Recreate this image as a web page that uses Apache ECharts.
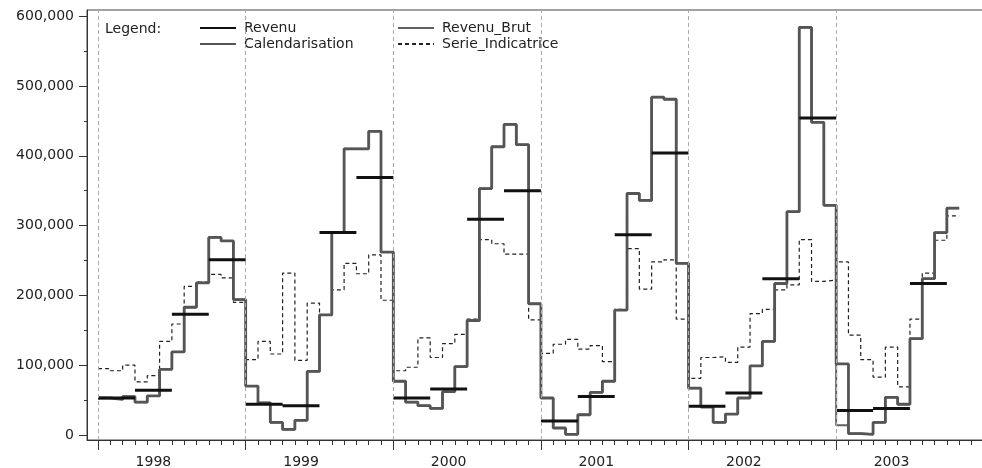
<!DOCTYPE html>
<html>
<head>
<meta charset="utf-8">
<script src="https://cdn.jsdelivr.net/npm/echarts@6/dist/echarts.min.js"></script>
<style>html,body{margin:0;padding:0;background:#fff}#c{width:982px;height:468px}</style>
</head>
<body>
<div id="c"></div>
<script>
// Monthly values, Jan 1998 .. Oct 2003 (month index 0..69)
const calendarisation = [
  53000, 51000, 55000, 47000, 56000, 94000, 119000, 183000, 218000, 283000, 278000, 194000,
  70000, 46000, 18000, 8000, 21000, 91000, 172000, 290000, 410000, 410000, 435000, 262000,
  77000, 47000, 42000, 38000, 62000, 98000, 164000, 353000, 413000, 445000, 416000, 188000,
  53000, 10000, 1000, 29000, 61000, 77000, 179000, 346000, 336000, 484000, 481000, 246000,
  67000, 40000, 18000, 30000, 53000, 99000, 134000, 217000, 320000, 584000, 448000, 329000,
  102000, 2000, 1000, 18000, 54000, 44000, 138000, 224000, 290000, 325000
];
const revenuBrut = [
  53000, 51000, 55000, 47000, 56000, 94000, 119000, 183000, 218000, 283000, 278000, 194000,
  70000, 46000, 18000, 8000, 21000, 91000, 172000, 290000, 410000, 410000, 435000, 262000,
  77000, 47000, 42000, 38000, 62000, 98000, 164000, 353000, 413000, 445000, 416000, 188000,
  53000, 10000, 1000, 29000, 61000, 77000, 179000, 346000, 336000, 484000, 481000, 246000,
  67000, 40000, 18000, 30000, 53000, 99000, 134000, 217000, 320000, 584000, 448000, 329000,
  14000, 2000, 1000, 18000, 54000, 44000, 138000, 224000, 290000, 325000
];
const serieIndicatrice = [
  95000, 92000, 100000, 76000, 85000, 134000, 159000, 213000, 219000, 230000, 225000, 190000,
  108000, 134000, 116000, 232000, 107000, 189000, 172000, 208000, 246000, 231000, 258000, 193000,
  92000, 97000, 139000, 111000, 131000, 144000, 166000, 280000, 274000, 259000, 259000, 165000,
  117000, 130000, 137000, 123000, 128000, 105000, 180000, 267000, 209000, 248000, 251000, 166000,
  81000, 111000, 112000, 104000, 126000, 174000, 180000, 208000, 215000, 280000, 220000, 222000,
  248000, 143000, 108000, 83000, 126000, 69000, 166000, 232000, 279000, 314000
];
// Quarterly values, Q1 1998 .. Q3 2003
const revenu = [
  53000, 64000, 173000, 251000,
  44000, 42000, 290000, 369000,
  53000, 66000, 309000, 350000,
  20000, 55000, 287000, 404000,
  41000, 60000, 224000, 454000,
  35000, 38000, 217000
];
const years = [1998, 1999, 2000, 2001, 2002, 2003];
const yTicks = [0, 100000, 200000, 300000, 400000, 500000, 600000];
const yMinorTicks = [50000, 150000, 250000, 350000, 450000, 550000];

const FONT = 'DejaVu Sans';
const monthTicks = [];
for (let i = 0; i < 72; i++) monthTicks.push(i);
const yearStarts = years.map((y, i) => i * 12);
const yearLabelPos = years.map((y, i) => i * 12 + 4.5);

function monthly(arr) {
  const d = arr.map((v, i) => [i, v]);
  d.push([arr.length, arr[arr.length - 1]]);
  return d;
}
function quarterly(arr) {
  const d = [];
  arr.forEach((v, q) => {
    d.push([q * 3, v]);
    d.push([q * 3 + 3, v]);
    d.push([q * 3 + 3, '-']);
  });
  return d;
}
function fmt(v) {
  return String(v).replace(/\B(?=(\d{3})+(?!\d))/g, ',');
}

const XMIN = -0.9, XMAX = 72.1, YMIN = -7200, YMAX = 608900;

const legendCommon = {
  orient: 'vertical', top: 21, padding: 0,
  itemWidth: 36, itemHeight: 14, itemGap: 2,
  itemStyle: {opacity: 0},
  textStyle: {fontFamily: FONT, fontSize: 14, color: '#222', padding: [0, 0, 0, 3]}
};

const chart = echarts.init(document.getElementById('c'), null, {renderer: 'canvas'});
chart.setOption({
  animation: false,
  backgroundColor: '#fff',
  textStyle: {fontFamily: FONT},
  grid: {left: 87, right: -3, top: 10, bottom: 28, show: true, borderColor: '#444', borderWidth: 1, outerBoundsMode: 'none', containLabel: false},
  graphic: [{
    type: 'text', left: 105, top: 22,
    style: {text: 'Legend:', font: '14px "DejaVu Sans"', fill: '#222'}
  }],
  legend: [
    Object.assign({data: ['Revenu', 'Calendarisation'], left: 199}, legendCommon),
    Object.assign({data: ['Revenu_Brut', 'Serie_Indicatrice'], left: 397}, legendCommon)
  ],
  xAxis: [
    {type: 'value', min: XMIN, max: XMAX, position: 'bottom',
     axisLine: {show: true, onZero: false, lineStyle: {color: '#333', width: 1}},
     axisTick: {show: true, customValues: monthTicks, length: 5, lineStyle: {color: '#333'}},
     axisLabel: {show: true, customValues: yearLabelPos, margin: 15, fontFamily: FONT, fontSize: 14, color: '#222',
       formatter: v => String(years[Math.round((v - 4.5) / 12)])},
     splitLine: {show: false}},
    {type: 'value', min: XMIN, max: XMAX, position: 'bottom',
     axisLine: {show: false, onZero: false},
     axisTick: {show: true, customValues: yearStarts, length: 10, lineStyle: {color: '#333'}},
     axisLabel: {show: false}, splitLine: {show: false}}
  ],
  yAxis: [
    {type: 'value', min: YMIN, max: YMAX, position: 'left', offset: 0,
     axisLine: {show: true, onZero: false, lineStyle: {color: '#333', width: 1}},
     axisTick: {show: true, customValues: yTicks, length: 8, lineStyle: {color: '#333'}},
     axisLabel: {show: true, customValues: yTicks, margin: 13, fontFamily: FONT, fontSize: 14, color: '#222', formatter: v => fmt(v)},
     splitLine: {show: false}},
    {type: 'value', min: YMIN, max: YMAX, position: 'left', offset: 0,
     axisLine: {show: false, onZero: false},
     axisTick: {show: true, customValues: yMinorTicks, length: 3, lineStyle: {color: '#333'}},
     axisLabel: {show: false}, splitLine: {show: false}}
  ],
  series: [
    {name: 'Serie_Indicatrice', type: 'line', step: 'end', symbol: 'none', data: monthly(serieIndicatrice),
     lineStyle: {color: '#222', width: 1.2, type: [4, 3]}, itemStyle: {color: '#222'},
     markLine: {silent: true, symbol: ['none', 'none'], label: {show: false},
       lineStyle: {color: '#aaa', width: 1, type: [4, 3]},
       data: yearStarts.map(x => ({xAxis: x}))}},
    {name: 'Revenu_Brut', type: 'line', step: 'end', symbol: 'none', data: monthly(revenuBrut),
     lineStyle: {color: '#606060', width: 2}, itemStyle: {color: '#606060'}},
    {name: 'Calendarisation', type: 'line', step: 'end', symbol: 'none', data: monthly(calendarisation),
     lineStyle: {color: '#555', width: 2.8}, itemStyle: {color: '#555'}},
    {name: 'Revenu', type: 'line', symbol: 'none', connectNulls: false, data: quarterly(revenu),
     lineStyle: {color: '#111', width: 3}, itemStyle: {color: '#111'}}
  ]
});
</script>
</body>
</html>
